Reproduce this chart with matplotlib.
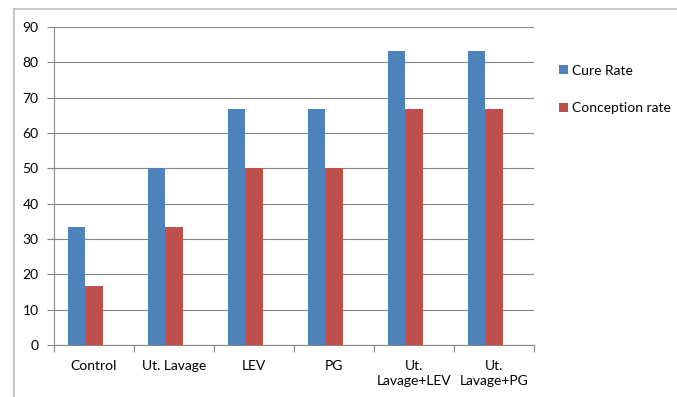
import matplotlib
matplotlib.use("Agg")
import matplotlib.pyplot as plt
from matplotlib.lines import Line2D
from matplotlib.patches import Patch
import numpy as np

categories = ["Control", "Ut. Lavage", "LEV", "PG", "Ut.\nLavage+LEV", "Ut.\nLavage+PG"]
cure_rate = [33.3, 50.0, 66.7, 66.7, 83.3, 83.3]
conception_rate = [16.7, 33.3, 50.0, 50.0, 66.7, 66.7]
series_names = ["Cure Rate", "Conception rate"]
y_ticks = [0, 10, 20, 30, 40, 50, 60, 70, 80, 90]

blue = "#4F81BD"
red = "#C0504D"
grid_col = "#868686"
font = "Lato"

W, H = 677, 397
fig = plt.figure(figsize=(W / 100, H / 100), dpi=100)
ax = fig.add_axes([54 / W, 1 - 345 / H, (534 - 54) / W, (345 - 27) / H])

# three bar slots per category (the third one is left empty)
x = np.arange(len(categories))
w = 0.219
ax.bar(x - 1.5 * w, cure_rate, width=w, align="edge", color=blue, zorder=3)
ax.bar(x - 0.5 * w, conception_rate, width=w, align="edge", color=red, zorder=3)

ax.set_xlim(-0.5, len(categories) - 0.5)
ax.set_ylim(0, 90)
ax.set_yticks(y_ticks)
ax.set_yticklabels([str(v) for v in y_ticks], fontsize=10, family=font)
ax.yaxis.grid(True, color=grid_col, linewidth=0.8, zorder=0)
ax.set_axisbelow(True)

ax.set_xticks(x)
ax.set_xticklabels(categories, fontsize=10, family=font, linespacing=1.3)
ax.set_xticks(np.arange(len(categories) + 1) - 0.5, minor=True)
ax.tick_params(axis="x", which="major", length=0, pad=11)
ax.tick_params(axis="x", which="minor", length=5, color=grid_col, width=0.8)
ax.tick_params(axis="y", length=5, color=grid_col, width=0.8, pad=6)

for s in ["top", "right"]:
    ax.spines[s].set_visible(False)
for s in ["left", "bottom"]:
    ax.spines[s].set_color(grid_col)
    ax.spines[s].set_linewidth(0.8)

handles = [Patch(facecolor=blue), Patch(facecolor=red)]
fig.legend(handles, series_names, loc="upper left",
           bbox_to_anchor=(553 / W, 1 - 59 / H), frameon=False,
           prop={"family": font, "size": 10},
           handlelength=0.65, handleheight=0.65, handletextpad=0.35,
           labelspacing=1.85, borderaxespad=0)

# chart-area frame
frame_col = "#BFBFBF"
fig.add_artist(Line2D([14 / W, 14 / W], [1 - 9 / H, 0], color=frame_col, lw=1.2, transform=fig.transFigure))
fig.add_artist(Line2D([14 / W, 1], [1 - 9 / H, 1 - 9 / H], color=frame_col, lw=1.2, transform=fig.transFigure))

fig.savefig("out.png", dpi=100)
